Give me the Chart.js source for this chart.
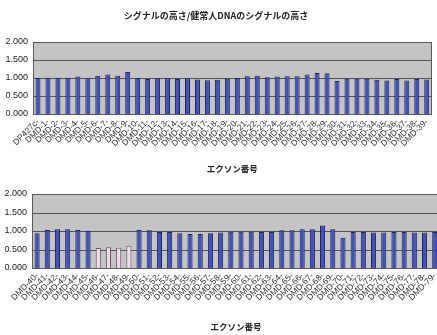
<!DOCTYPE html>
<html>
<head>
<meta charset="utf-8">
<script src="https://cdn.jsdelivr.net/npm/chart.js@4/dist/chart.umd.min.js"></script>
<style>
  html, body { margin: 0; padding: 0; background: #fff; overflow: hidden; width: 437px; height: 335px; }
  canvas { position: absolute; left: 0; }
  #chartTop { top: 0; }
  #chartBottom { top: 175px; }
</style>
</head>
<body>
<canvas id="chartTop" width="437" height="175"></canvas>
<canvas id="chartBottom" width="445" height="160"></canvas>
<script>
// Exon labels, upper panel
const topExons = [
  'DP427c-', 'DMD-1-', 'DMD-2-', 'DMD-3-', 'DMD-4-', 'DMD-5-', 'DMD-6-', 'DMD-7-', 'DMD-8-', 'DMD-9-',
  'DMD-10-', 'DMD-11-', 'DMD-12-', 'DMD-13-', 'DMD-14-', 'DMD-15-', 'DMD-16-', 'DMD-17-', 'DMD-18-', 'DMD-19-',
  'DMD-20-', 'DMD-21-', 'DMD-22-', 'DMD-23-', 'DMD-24-', 'DMD-25-', 'DMD-26-', 'DMD-27-', 'DMD-28-', 'DMD-29-',
  'DMD-30-', 'DMD-31-', 'DMD-32-', 'DMD-33-', 'DMD-34-', 'DMD-35-', 'DMD-36-', 'DMD-37-', 'DMD-38-', 'DMD-39-'
];
// Signal ratio (sample / healthy DNA), upper panel
const topRatios = [
  1.00, 1.01, 1.01, 1.01, 1.04, 0.99, 1.06, 1.10, 1.06, 1.17,
  1.00, 0.97, 0.99, 0.99, 0.97, 0.99, 0.96, 0.94, 0.95, 0.98,
  1.00, 1.05, 1.06, 1.02, 1.04, 1.05, 1.05, 1.10, 1.14, 1.13,
  0.92, 0.98, 0.98, 0.98, 0.95, 0.93, 0.97, 0.93, 0.97, 0.96
];

// Exon labels, lower panel
const bottomExons = [
  'DMD-40-', 'DMD-41-', 'DMD-42-', 'DMD-43-', 'DMD-44-', 'DMD-45-', 'DMD-46-', 'DMD-47-', 'DMD-48-', 'DMD-49-',
  'DMD-50-', 'DMD-51-', 'DMD-52-', 'DMD-53-', 'DMD-54-', 'DMD-55-', 'DMD-56-', 'DMD-57-', 'DMD-58-', 'DMD-59-',
  'DMD-60-', 'DMD-61-', 'DMD-62-', 'DMD-63-', 'DMD-64-', 'DMD-65-', 'DMD-66-', 'DMD-67-', 'DMD-68-', 'DMD-69-',
  'DMD-70-', 'DMD-71-', 'DMD-72-', 'DMD-73-', 'DMD-74-', 'DMD-75-', 'DMD-76-', 'DMD-77-', 'DMD-78-', 'DMD-79-'
];
// Signal ratio (sample / healthy DNA), lower panel
const bottomRatios = [
  0.94, 1.03, 1.05, 1.05, 1.03, 1.01, 0.54, 0.56, 0.55, 0.60,
  1.03, 1.02, 0.97, 0.97, 0.94, 0.92, 0.92, 0.94, 0.96, 0.98,
  0.98, 0.98, 0.97, 0.97, 1.02, 1.02, 1.05, 1.05, 1.15, 1.05,
  0.82, 0.97, 0.97, 0.96, 0.96, 0.97, 0.97, 0.96, 0.96, 0.97
];
// Exons with a halved signal (heterozygous deletion)
const deletedExons = ['DMD-46-', 'DMD-47-', 'DMD-48-', 'DMD-49-'];

const yTicks = [0, 0.5, 1, 1.5, 2];

const CJK = '"Noto Sans CJK JP", "Noto Sans", sans-serif';
const LATIN = '"Liberation Sans", Arial, sans-serif';

// Grey plotting field, horizontal rules and a dark frame, drawn under the bars
const plotFrame = {
  id: 'plotFrame',
  beforeDatasetsDraw(chart) {
    const ctx = chart.ctx;
    const a = chart.chartArea;
    const y = chart.scales.y;
    ctx.save();
    ctx.fillStyle = '#c4c4c4';
    ctx.fillRect(a.left, a.top, a.right - a.left, a.bottom - a.top);
    ctx.strokeStyle = '#555';
    ctx.lineWidth = 1;
    yTicks.forEach(v => {
      const py = Math.round(y.getPixelForValue(v)) + 0.5;
      ctx.beginPath();
      ctx.moveTo(a.left, py);
      ctx.lineTo(a.right, py);
      ctx.stroke();
    });
    ctx.restore();
  },
  afterDatasetsDraw(chart) {
    const ctx = chart.ctx;
    const a = chart.chartArea;
    ctx.save();
    ctx.strokeStyle = '#5a5a5a';
    ctx.lineWidth = 1;
    ctx.strokeRect(Math.round(a.left) + 0.5, Math.round(a.top) + 0.5,
                   Math.round(a.right - a.left) - 1, Math.round(a.bottom - a.top));
    ctx.restore();
  }
};

function makeChart(id, labels, values, opts) {
  return new Chart(document.getElementById(id), {
    type: 'bar',
    data: {
      labels: labels,
      datasets: [{
        data: values,
        backgroundColor: labels.map(l => deletedExons.includes(l) ? '#f3d8ee' : '#4252b5'),
        borderColor: labels.map(l => deletedExons.includes(l) ? '#6a5a6a' : '#1c2266'),
        borderWidth: 1,
        barPercentage: 0.5,
        categoryPercentage: 1.0
      }]
    },
    options: {
      responsive: false,
      animation: false,
      devicePixelRatio: 1,
      layout: { padding: opts.padding },
      plugins: {
        legend: { display: false },
        tooltip: { enabled: false },
        title: opts.title
      },
      scales: {
        x: {
          grid: { display: false, drawTicks: false },
          border: { display: false },
          ticks: {
            autoSkip: false,
            minRotation: 45,
            maxRotation: 45,
            padding: 3,
            color: '#333',
            font: { family: LATIN, size: 8.5 }
          },
          title: {
            display: true,
            text: 'エクソン番号',
            color: '#222',
            font: { family: CJK, size: 8.5, weight: 'bold' },
            padding: { top: 0, bottom: opts.xTitlePad }
          },
          afterFit(scale) { scale.height = opts.xHeight; }
        },
        y: {
          min: 0,
          max: 2,
          afterBuildTicks(scale) { scale.ticks = yTicks.map(v => ({ value: v })); },
          grid: { display: false, drawTicks: false },
          border: { display: false },
          ticks: {
            padding: 5,
            color: '#222',
            font: { family: LATIN, size: 9 },
            callback: (v) => Number(v).toFixed(3)
          },
          afterFit(scale) { scale.width = opts.yWidth; }
        }
      }
    },
    plugins: [plotFrame]
  });
}

makeChart('chartTop', topExons, topRatios, {
  padding: { top: 0, right: 5, bottom: 0, left: 0 },
  title: {
    display: true,
    text: 'シグナルの高さ/健常人DNAのシグナルの高さ',
    color: '#222',
    font: { family: CJK, size: 9, weight: 'bold' },
    padding: { top: 10, bottom: 21.2 }
  },
  xHeight: 61,
  xTitlePad: 1,
  yWidth: 33
});

makeChart('chartBottom', bottomExons, bottomRatios, {
  padding: { top: 19, right: 5, bottom: 0, left: 0 },
  title: { display: false },
  xHeight: 67,
  xTitlePad: 3,
  yWidth: 32
});
</script>
</body>
</html>
